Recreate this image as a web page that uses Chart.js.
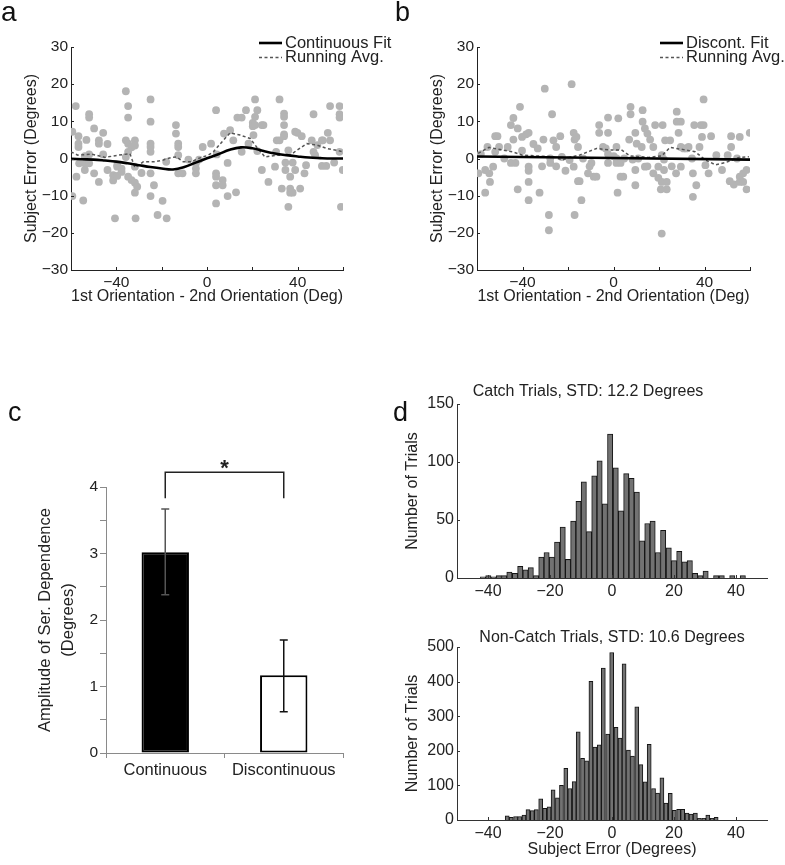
<!DOCTYPE html>
<html lang="en">
<head>
<meta charset="UTF-8">
<title>Serial dependence figure</title>
<style>
  body { margin: 0; background: #fff; overflow: hidden; }
  #fig { position: relative; width: 785px; height: 865px; }
  canvas { position: absolute; }
</style>
</head>
<body>
<div id="fig">
  <canvas id="chartA" width="395" height="310" style="left:0;top:0"></canvas>
  <canvas id="chartB" width="390" height="310" style="left:395px;top:0"></canvas>
  <canvas id="chartC" width="390" height="485" style="left:0;top:380px"></canvas>
  <canvas id="chartD1" width="395" height="220" style="left:390px;top:380px"></canvas>
  <canvas id="chartD2" width="395" height="245" style="left:390px;top:620px"></canvas>
</div>

<script src="https://cdn.jsdelivr.net/npm/chart.js"></script>
<script>
// ---- panel a: continuous condition ----
const aX = [-59.4,-59.4,-57.9,-57.6,-56.7,-56.7,-56.7,-56.4,-54.6,-53.9,-53.9,-53.9,-53.2,-52.0,-52.0,-52.0,-52.0,
  -49.8,-49.8,-47.7,-47.7,-47.7,-45.8,-45.8,-43.9,-43.9,-41.4,-41.4,-40.6,-39.6,-39.6,-39.6,-37.7,-37.7,
  -35.8,-35.8,-35.8,-34.8,-34.8,-34.8,-34.8,-34.8,-31.5,-33.3,-33.3,-31.8,-31.8,-31.8,-31.8,-31.8,-30.8,-28.9,
  -24.9,-24.9,-24.9,-24.9,-24.9,-24.9,-24.9,-23.4,-21.8,-19.6,-17.8,-18.0,-13.7,-13.7,-12.7,-12.7,-12.7,-12.7,
  -10.8,-8.2,-4.9,-4.9,-4.9,-3.5,-1.9,1.8,4.0,4.0,4.0,4.0,4.0,4.3,6.9,6.9,7.5,9.1,9.1,10.2,11.6,12.8,13.4,
  15.3,15.3,17.2,18.3,20.2,20.2,20.5,21.2,21.2,21.2,22.2,22.2,24.2,24.2,24.9,27.1,30.0,30.5,30.8,32.0,32.0,33.0,
  34.0,34.0,34.0,34.0,34.0,34.6,34.6,35.9,35.9,36.7,36.7,36.7,37.8,37.8,38.9,38.9,39.9,41.1,41.8,43.0,43.7,
  46.2,47.0,47.0,47.7,48.7,50.7,50.7,51.1,52.6,53.3,54.3,54.3,56.1,58.5,58.5,58.5,58.5,59.1,59.9];
const aY = [7.2,-10.1,14.1,-4.9,4.0,3.1,6.0,-1.3,-11.3,0.6,-1.3,-3.1,5.0,11.9,11.0,-1.3,1.1,
  8.1,-4.0,4.9,4.0,-6.3,6.9,1.1,3.9,-3.1,-4.5,-5.9,-16.1,-1.8,-2.2,-4.7,-2.7,-3.6,
  18.1,4.9,0.4,14.1,11.0,4.0,1.8,-4.9,-16.1,3.0,-5.8,4.9,3.5,-2.2,-6.5,-9.2,-7.6,-3.9,
  15.9,9.9,4.0,3.1,1.8,-4.0,-10.1,-7.2,-15.2,-11.4,-16.1,-0.9,6.7,9.0,4.0,3.1,0.9,-4.0,
  -4.0,-0.3,-1.3,-2.7,-4.0,-0.3,3.1,4.0,13.0,-4.0,-4.9,-7.2,-12.1,1.1,-5.8,-7.2,6.7,-1.2,-10.1,7.6,4.9,-9.1,11.0,
  11.0,1.8,13.0,4.0,9.6,8.7,6.3,15.9,11.2,9.0,2.0,13.0,9.0,-3.1,9.0,-6.3,-2.2,1.8,4.9,15.9,4.9,-8.1,
  12.1,11.2,9.0,6.5,6.0,-1.1,-3.1,2.2,-13.0,-8.1,-9.2,-4.9,-1.1,-9.2,-3.1,7.2,6.9,-8.1,6.0,-4.0,-1.8,
  4.9,11.9,1.8,0.9,3.6,4.9,-2.0,4.9,-2.0,6.9,14.1,4.9,-1.1,14.1,11.9,11.0,1.8,-13.0,-3.1];
const fitXA = [-60,-55,-50,-45,-40,-35,-30,-25,-20,-15,-10,-5,0,5,10,15,20,25,30,35,40,45,50,55,60];
const fitYA = [-0.1,-0.2,-0.3,-0.55,-0.85,-1.3,-1.8,-2.3,-2.7,-2.95,-2.3,-1.1,0.05,1.15,2.35,3.0,2.75,
  2.0,1.35,0.9,0.55,0.25,0.1,0,0];
const avgXA = [-60,-57,-51,-45,-39,-34,-31.8,-28.1,-23,-19.3,-15.6,-13.4,-10.5,-6.8,-3.8,0.6,2.8,7.2,10.2,14.6,
  19,21.9,25.6,30.8,36.7,39.6,44,48.5,52.9,57.3,60];
const avgYA = [1.8,0.9,1.2,0.3,0.9,1.3,-2.4,-0.9,-0.9,-0.4,0.3,0.4,-0.9,-0.9,0,0.9,1.8,4.9,6.9,6.3,
  5.4,3.1,0.4,0.9,0.9,2.2,4.0,3.6,2.7,2.2,1.8];

// ---- panel b: discontinuous condition ----
const bX = [-59.4,-58.3,-56.4,-56.4,-55.4,-54.6,-54.3,-52.9,-52.0,-52.0,-51.0,-50.3,-48.0,-46.5,-45.1,-45.1,-44.0,-44.0,
  -43.1,-42.1,-42.1,-41.1,-40.2,-40.2,-38.4,-37.3,-37.3,-37.3,-37.3,-37.3,-35.2,-33.3,-32.5,-31.4,-30.8,-30.2,
  -28.4,-28.4,-27.8,-27.8,-27.0,-26.4,-25.2,-25.2,-23.4,-22.7,-21.1,-19.3,-18.4,-17.5,-17.5,-17.1,-17.1,-16.3,
  -15.6,-15.6,-14.9,-14.1,-13.4,-11.2,-10.5,-9.7,-8.7,-7.5,-6.3,-6.3,-4.6,-3.4,-2.4,-2.4,-2.4,-2.4,0.1,1.3,1.3,
  1.3,1.8,2.1,3.1,3.1,4.3,4.7,6.9,7.5,7.5,8.4,9.6,9.6,9.6,10.2,10.9,12.4,12.8,12.8,13.8,13.8,14.9,14.9,16.1,
  17.5,17.5,18.3,19.7,19.7,20.8,21.2,21.2,21.2,21.6,22.2,22.2,22.7,23.4,23.4,24.9,25.6,27.5,27.8,27.8,28.6,
  29.6,29.6,29.6,30.8,32.0,33.0,34.5,34.9,34.9,35.5,36.4,37.8,38.4,38.9,39.6,39.6,40.4,41.8,42.9,45.2,47.7,
  50.2,51.1,51.7,51.7,52.9,54.3,55.5,55.5,55.5,57.0,57.0,58.5,58.5,59.9];
const bY = [-4.0,1.2,-3.1,-9.2,3.1,-4.0,-6.3,-2.2,6.0,1.8,6.0,3.1,0,3.1,9.0,-1.2,10.9,5.1,
  -1.2,-8.3,8.1,13.9,5.8,2.1,6.5,6.9,-2.2,-3.3,-6.3,-11.2,3.9,2.7,-9.2,-2.1,5.1,18.8,
  -15.2,-19.3,0,-1.2,11.9,4.9,3.1,-2.1,6.0,0.4,-3.3,-0.4,20.0,6.9,-2.2,-15.2,5.1,5.8,
  3.1,-6.1,-6.1,-11.2,0,-4.0,-2.1,-1.2,-4.9,-4.9,9.0,6.9,3.1,2.7,11.0,6.9,1.2,-1.2,0.6,3.1,-1.2,
  0,-9.2,10.8,-1.2,-4.9,-4.9,0,5.1,13.9,11.9,-0.3,6.9,-3.1,-7.2,4.0,0,3.1,13.0,9.9,8.1,-2.2,6.7,-2.1,5.1,
  3.1,-4.0,9.0,-2.2,-5.2,-8.3,0.9,-6.3,-20.2,9.0,-0.3,-3.1,4.9,-6.3,-8.3,4.9,-2.1,-4.0,12.6,9.9,6.9,
  9.9,3.1,-2.2,2.7,2.7,3.1,0,-4.0,-10.3,9.0,-7.2,3.1,9.0,5.8,9.0,15.9,-1.8,-4.0,6.0,0.9,-3.1,
  0.9,-6.1,6.0,3.1,-7.0,0,5.8,-4.9,-6.3,-4.0,-6.3,-3.1,-8.3,6.9];
const fitXB = [-60, 60];
const fitYB = [0.55, -0.3];
const avgXB = [-59.5,-54.7,-48.8,-44.5,-40,-34,-26.8,-22.4,-19.3,-14.9,-7.5,-1.6,3.5,7.2,15.2,21.2,24.9,31.5,
  35.9,40.4,44.8,49.2,55.1,59.5];
const avgYB = [1.4,3.0,2.3,1.8,0.9,0.7,0.5,-0.4,0.3,0.9,2.7,2.3,2.3,0.7,0.3,0.7,3.0,2.3,
  1.8,-0.4,-1.7,-1.1,0.3,0.5];
const scatterXTicks = [-60, -40, -20, 0, 20, 40, 60];

// ---- panel c: amplitude of serial dependence ----
const ampCats = ['Continuous', 'Discontinuous'];
const ampVals = [3.02, 1.17];
const ampLo = [2.38, 0.62];
const ampHi = [3.67, 1.70];
const sigBar = 4.22;   // bracket level
const sigLeg = 3.83;   // bracket leg ends

// ---- panel d: error histograms ----
const catchCenters = [-41.6,-39.9,-38.2,-36.5,-34.8,-33.1,-31.3,-29.6,-27.9,-26.2,-24.5,-22.8,-21.1,-19.4,-17.7,
  -15.9,-14.2,-12.5,-10.8,-9.1,-7.4,-5.7,-4.0,-2.3,-0.6,1.2,2.9,4.6,6.3,8.0,9.7,11.4,13.1,14.8,16.5,18.3,20.0,
  21.7,23.4,25.1,26.8,28.5,30.2,31.9,33.6,35.4,37.1,38.8,40.5,42.2];
const catchCounts = [1,2,1,2,2,5,4,10,7,9,2,18,22,18,31,44,16,49,66,83,40,88,101,64,124,95,58,90,86,74,
  32,47,49,22,41,26,15,23,14,15,4,2,6,0,2,2,0,2,0,2];
const nonCatchCenters = [-33.8,-32.5,-31.1,-29.8,-28.4,-27.1,-25.7,-24.4,-23.0,-21.7,-20.3,-19.0,-17.6,-16.3,-14.9,
  -13.6,-12.2,-10.9,-9.5,-8.2,-6.8,-5.5,-4.1,-2.8,-1.4,-0.1,1.3,2.6,3.9,5.3,6.6,8.0,9.3,10.7,12.0,13.4,14.7,
  16.1,17.4,18.8,20.1,21.5,22.8,24.2,25.5,26.9,28.2,29.6,30.9,32.3,33.6];
const nonCatchCounts = [12,8,10,10,14,30,27,30,61,34,38,87,64,100,149,91,111,255,178,171,401,211,217,439,248,
  484,268,237,451,202,185,327,160,110,219,91,78,122,49,77,28,31,31,20,17,20,5,5,14,5,8];
const histXTicks = [-40, -20, 0, 20, 40];

Chart.defaults.font.family = '"Liberation Sans", Arial, Helvetica, sans-serif';
Chart.defaults.font.size = 16;
Chart.defaults.color = '#222';

const FONT = '"Liberation Sans", Arial, sans-serif';
const toXY = (xs, ys) => xs.map((x, i) => ({ x: x, y: ys[i] }));
const minus = v => (v < 0 ? '\u2212' + Math.abs(v) : String(v));

// text and legend marks drawn on top of a chart
function notes(items) {
  return {
    id: 'notes',
    afterDraw(chart) {
      const ctx = chart.ctx;
      items.forEach(it => {
        ctx.save();
        if (it.line) {
          ctx.strokeStyle = it.color;
          ctx.lineWidth = it.width;
          ctx.setLineDash(it.dash || []);
          ctx.beginPath();
          ctx.moveTo(it.line[0], it.line[1]);
          ctx.lineTo(it.line[2], it.line[3]);
          ctx.stroke();
        } else {
          ctx.font = it.font;
          ctx.fillStyle = it.color || '#222';
          ctx.textAlign = it.align || 'left';
          ctx.textBaseline = it.base || 'middle';
          ctx.fillText(it.text, it.x, it.y);
        }
        ctx.restore();
      });
    }
  };
}

// MATLAB style ticks pointing into the plot
function inTicks(len, color) {
  return {
    id: 'inTicks',
    afterDraw(chart) {
      const { ctx, chartArea } = chart;
      const xs = chart.scales.x, ys = chart.scales.y;
      ctx.save();
      ctx.strokeStyle = color;
      ctx.lineWidth = 1;
      ctx.beginPath();
      xs.ticks.forEach(t => {
        const p = Math.round(xs.getPixelForValue(t.value)) + 0.5;
        ctx.moveTo(p, chartArea.bottom);
        ctx.lineTo(p, chartArea.bottom - len);
      });
      ys.ticks.forEach(t => {
        const p = Math.round(ys.getPixelForValue(t.value)) + 0.5;
        ctx.moveTo(chartArea.left, p);
        ctx.lineTo(chartArea.left + len, p);
      });
      ctx.stroke();
      ctx.restore();
    }
  };
}

function scatterPanel(id, px, py, fx, fy, rx, ry, opt) {
  return new Chart(document.getElementById(id), {
    type: 'scatter',
    data: {
      datasets: [
        { data: toXY(fx, fy), showLine: true, borderColor: '#000', borderWidth: 2.6, pointRadius: 0,
          tension: 0.4, order: 0 },
        { data: toXY(rx, ry), showLine: true, borderColor: '#555', borderWidth: 1.5, borderDash: [3, 2.5],
          pointRadius: 0, order: 1 },
        { data: toXY(px, py), backgroundColor: '#b4b4b4', borderWidth: 0, pointRadius: 3.9, order: 2 }
      ]
    },
    options: {
      responsive: false,
      animation: false,
      events: [],
      layout: { padding: { left: 0, top: 47, right: opt.right, bottom: 0 } },
      plugins: { legend: { display: false }, tooltip: { enabled: false } },
      scales: {
        x: {
          type: 'linear', min: -60, max: 60,
          afterBuildTicks: s => { s.ticks = scatterXTicks.map(v => ({ value: v })); },
          ticks: { autoSkip: false, maxRotation: 0, padding: 3, font: { size: 15.5 },
            callback: v => (v % 40 === 0 && Math.abs(v) < 60 ? minus(v) : '') },
          grid: { display: false, drawTicks: false },
          border: { color: '#222', width: 1 },
          title: { display: true, text: '1st Orientation - 2nd Orientation (Deg)', padding: { top: 0, bottom: 4 } },
          afterFit: s => { s.height = 40; }
        },
        y: {
          min: -30, max: 30,
          ticks: { stepSize: 10, padding: 3, font: { size: 15.5 }, callback: v => minus(v) },
          grid: { display: false, drawTicks: false },
          border: { color: '#222', width: 1 },
          title: { display: true, text: 'Subject Error (Degrees)', padding: { top: opt.titlePad, bottom: 0 } },
          afterFit: s => { s.width = opt.yWidth; }
        }
      }
    },
    plugins: [inTicks(3, '#222'), notes(opt.notes)]
  });
}

scatterPanel('chartA', aX, aY, fitXA, fitYA, avgXA, avgYA, {
  right: 52, yWidth: 71, titlePad: 22.4,
  notes: [
    { text: 'a', x: 1, y: 21, font: '28px ' + FONT, base: 'alphabetic', color: '#111' },
    { line: [259, 43, 282, 43], color: '#000', width: 2.6 },
    { line: [259, 57.5, 282, 57.5], color: '#555', width: 1.5, dash: [3, 2.5] },
    { text: 'Continuous Fit', x: 285, y: 43, font: '16.5px ' + FONT },
    { text: 'Running Avg.', x: 285, y: 57.5, font: '16.5px ' + FONT }
  ]
});

scatterPanel('chartB', bX, bY, fitXB, fitYB, avgXB, avgYB, {
  right: 35, yWidth: 82, titlePad: 33.4,
  notes: [
    { text: 'b', x: 0, y: 21, font: '27px ' + FONT, base: 'alphabetic', color: '#111' },
    { line: [265, 43, 288, 43], color: '#000', width: 2.6 },
    { line: [265, 57.5, 288, 57.5], color: '#555', width: 1.5, dash: [3, 2.5] },
    { text: 'Discont. Fit', x: 291, y: 43, font: '16.5px ' + FONT },
    { text: 'Running Avg.', x: 291, y: 57.5, font: '16.5px ' + FONT }
  ]
});

// error bars and significance bracket for panel c
const errBars = {
  id: 'errBars',
  afterDatasetsDraw(chart) {
    const ctx = chart.ctx, y = chart.scales.y;
    const bars = chart.getDatasetMeta(0).data;
    const colors = ['#555', '#111'];
    ctx.save();
    ctx.lineWidth = 1.5;
    bars.forEach((bar, i) => {
      const top = y.getPixelForValue(ampHi[i]), bot = y.getPixelForValue(ampLo[i]);
      ctx.strokeStyle = colors[i];
      ctx.beginPath();
      ctx.moveTo(bar.x, top); ctx.lineTo(bar.x, bot);
      ctx.moveTo(bar.x - 4, top); ctx.lineTo(bar.x + 4, top);
      ctx.moveTo(bar.x - 4, bot); ctx.lineTo(bar.x + 4, bot);
      ctx.stroke();
    });
    const x0 = bars[0].x, x1 = bars[1].x;
    const yb = y.getPixelForValue(sigBar), yl = y.getPixelForValue(sigLeg);
    ctx.strokeStyle = '#222';
    ctx.beginPath();
    ctx.moveTo(x0, yl); ctx.lineTo(x0, yb); ctx.lineTo(x1, yb); ctx.lineTo(x1, yl);
    ctx.stroke();
    ctx.fillStyle = '#222';
    ctx.font = 'bold 22px ' + FONT;
    ctx.textAlign = 'center';
    ctx.textBaseline = 'alphabetic';
    ctx.fillText('*', (x0 + x1) / 2, yb + 3);
    ctx.restore();
  }
};

new Chart(document.getElementById('chartC'), {
  type: 'bar',
  data: {
    labels: ampCats,
    datasets: [{
      data: ampVals,
      backgroundColor: ['#000', '#fff'],
      borderColor: '#000',
      borderWidth: 2,
      borderSkipped: false,
      barPercentage: 0.4,
      categoryPercentage: 1
    }]
  },
  options: {
    responsive: false,
    animation: false,
    events: [],
    layout: { padding: { left: 0, top: 107, right: 47, bottom: 0 } },
    plugins: { legend: { display: false }, tooltip: { enabled: false } },
    scales: {
      x: {
        grid: { display: true, drawOnChartArea: false, drawTicks: true, tickLength: 5, color: '#8a8a8a', offset: true },
        border: { color: '#8a8a8a', width: 1 },
        ticks: { padding: 3, font: { size: 16.5 } },
        afterFit: s => { s.height = 112; }
      },
      y: {
        min: 0, max: 4,
        ticks: { stepSize: 0.5, autoSkip: false, padding: 2, font: { size: 15.5 },
          callback: v => (Number.isInteger(v) ? v : '') },
        grid: { display: true, drawOnChartArea: false, drawTicks: true, tickLength: 6, color: '#8a8a8a' },
        border: { color: '#8a8a8a', width: 1 },
        title: { display: true, text: ['Amplitude of Ser. Dependence', '(Degrees)'],
          font: { size: 16.5, lineHeight: 1.4 }, padding: { top: 33.5, bottom: 0 } },
        afterFit: s => { s.width = 106; }
      }
    }
  },
  plugins: [errBars, notes([{ text: 'c', x: 8, y: 41, font: '27px ' + FONT, base: 'alphabetic', color: '#111' }])]
});

function histPanel(id, centers, counts, opt) {
  return new Chart(document.getElementById(id), {
    type: 'bar',
    data: {
      datasets: [{
        data: toXY(centers, counts),
        backgroundColor: '#727272',
        borderColor: '#151515',
        borderWidth: 1,
        barPercentage: 1,
        categoryPercentage: 1
      }]
    },
    options: {
      responsive: false,
      animation: false,
      events: [],
      layout: { padding: { left: 0, top: opt.top, right: 18, bottom: 0 } },
      plugins: { legend: { display: false }, tooltip: { enabled: false } },
      scales: {
        x: {
          type: 'linear', min: -50, max: 50, offset: false,
          afterBuildTicks: s => { s.ticks = histXTicks.map(v => ({ value: v })); },
          ticks: { autoSkip: false, maxRotation: 0, padding: 4, callback: v => minus(v) },
          grid: { display: false, drawTicks: false },
          border: { color: '#333', width: 1 },
          title: { display: !!opt.xTitle, text: opt.xTitle || '', padding: { top: 0, bottom: 5.4 } },
          afterFit: s => { s.height = opt.xHeight; }
        },
        y: {
          min: 0, max: opt.yMax,
          ticks: { stepSize: opt.yStep, padding: 3 },
          grid: { display: false, drawTicks: false },
          border: { color: '#333', width: 1 },
          title: { display: true, text: 'Number of Trials', padding: { top: 13.4, bottom: 0 } },
          afterFit: s => { s.width = 67; }
        }
      }
    },
    plugins: [inTicks(3, '#333'), notes(opt.notes)]
  });
}

histPanel('chartD1', catchCenters, catchCounts, {
  top: 24, xHeight: 22, yMax: 150, yStep: 50,
  notes: [
    { text: 'd', x: 3, y: 41, font: '27px ' + FONT, base: 'alphabetic', color: '#111' },
    { text: 'Catch Trials, STD: 12.2 Degrees', x: 198, y: 12, font: '16px ' + FONT, align: 'center' }
  ]
});

histPanel('chartD2', nonCatchCenters, nonCatchCounts, {
  top: 27, xHeight: 45, yMax: 500, yStep: 100, xTitle: 'Subject Error (Degrees)',
  notes: [
    { text: 'Non-Catch Trials, STD: 10.6 Degrees', x: 222, y: 18, font: '16px ' + FONT, align: 'center' }
  ]
});
</script>
</body>
</html>
